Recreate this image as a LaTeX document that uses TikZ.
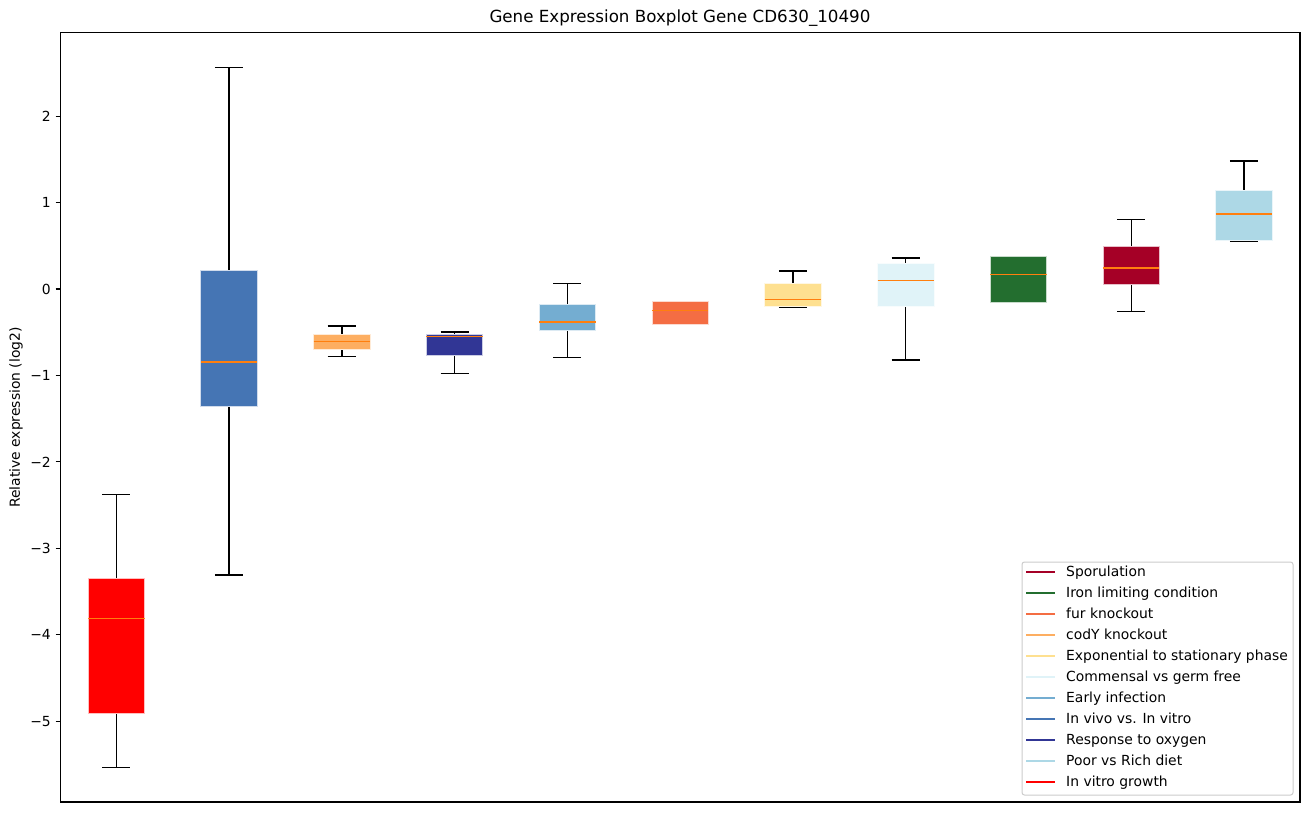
\documentclass[tikz,border=0pt]{standalone}
\usepackage{fontspec}
\setmainfont{DejaVu Sans}
\definecolor{cspor}{HTML}{A50026}
\definecolor{ciron}{HTML}{236E2F}
\definecolor{cfur}{HTML}{F46D43}
\definecolor{ccody}{HTML}{FDAE61}
\definecolor{cexpo}{HTML}{FEE090}
\definecolor{ccomm}{HTML}{E0F3F8}
\definecolor{cearly}{HTML}{74ADD1}
\definecolor{cvivo}{HTML}{4575B4}
\definecolor{coxy}{HTML}{313695}
\definecolor{cpoor}{HTML}{ADD8E6}
\definecolor{cvitro}{HTML}{FF0000}
\definecolor{cmed}{HTML}{FF7F0E}
\definecolor{clegedge}{HTML}{CCCCCC}
\tikzset{
  whisk/.style={draw=black,line width=1.4pt},
  boxfill/.style={line width=0.8pt},
  medline/.style={draw=cmed,line width=1.4pt},
  spine/.style={draw=black,line width=1.1pt},
  tickline/.style={draw=black,line width=1.1pt},
  ticklab/.style={anchor=east,inner sep=0pt,font=\fontsize{13.9}{16}\selectfont},
  legline/.style={line width=2.1pt},
  legtext/.style={anchor=base west,inner sep=0pt,font=\fontsize{13.9}{16}\selectfont},
}
\begin{document}
\begin{tikzpicture}[x=1pt,y=-1pt]
\useasboundingbox (0,0) rectangle (1309,812);
\fill[white] (0,0) rectangle (1309,812);
% boxes: center/color/capTop/boxTop/median/boxBottom/capBottom
\foreach \c/\col/\ct/\bt/\m/\bb/\cb in {
  116.3/cvitro/494.3/578.3/618.3/713.7/767.3,
  229.07/cvivo/67.3/270/362/406.5/575,
  341.84/ccody/326/334/341.3/349.7/356.3,
  454.61/coxy/332/334/336.3/355/373.3,
  567.38/cearly/283.3/304.7/322/330.7/357.3,
  680.15/cfur/301.7/301.7/310.3/324/324,
  792.92/cexpo/271/283/299.3/306.7/307.3,
  905.69/ccomm/258/263/280.3/306.7/360,
  1018.46/ciron/256.7/256.7/274.3/302/302,
  1131.23/cspor/219.3/246.7/268/284/311.3,
  1244.0/cpoor/161/190/214/240.7/241.3}{
  \draw[whisk] (\c,\ct) -- (\c,\bt);
  \draw[whisk] (\c,\bb) -- (\c,\cb);
  \draw[whisk] (\c-14.1,\ct) -- (\c+14.1,\ct);
  \draw[whisk] (\c-14.1,\cb) -- (\c+14.1,\cb);
  \path[boxfill,fill=\col,draw=white!75!\col] (\c-28.2,\bt) rectangle (\c+28.2,\bb);
  \draw[medline] (\c-28.2,\m) -- (\c+28.2,\m);
}
% axes
\draw[spine] (60.5,32.5) rectangle (1300,802);
% y ticks
\foreach \v/\lab in {2/2,1/1,0/0,-1/−1,-2/−2,-3/−3,-4/−4,-5/−5}{
  \draw[tickline] (55.6,289-86.45*\v) -- (60.5,289-86.45*\v);
  \node[ticklab] (tick\v) at (51,289-86.45*\v) {\lab};
}
% title and label
\node[inner sep=0pt,font=\fontsize{16.7}{19}\selectfont] (title) at (680,18.5) {Gene Expression Boxplot Gene CD630\_10490};
\node[inner sep=0pt,rotate=90,font=\fontsize{13.9}{16}\selectfont] (ylab) at (16,417.5) {Relative expression (log2)};
% legend
\path[draw=clegedge,fill=white,fill opacity=0.8,rounded corners=2.5pt,line width=1pt] (1022,562) rectangle (1293,795);
\foreach \k/\col/\lab in {
  0/cspor/Sporulation,
  1/ciron/Iron limiting condition,
  2/cfur/fur knockout,
  3/ccody/codY knockout,
  4/cexpo/Exponential to stationary phase,
  5/ccomm/Commensal vs germ free,
  6/cearly/Early infection,
  7/cvivo/In vivo vs. In vitro,
  8/coxy/Response to oxygen,
  9/cpoor/Poor vs Rich diet,
  10/cvitro/In vitro growth}{
  \draw[legline,draw=\col] (1026,571.7+21*\k) -- (1055,571.7+21*\k);
  \node[legtext] (leg\k) at (1066,576.9+21*\k) {\lab};
}
\end{tikzpicture}
\end{document}
